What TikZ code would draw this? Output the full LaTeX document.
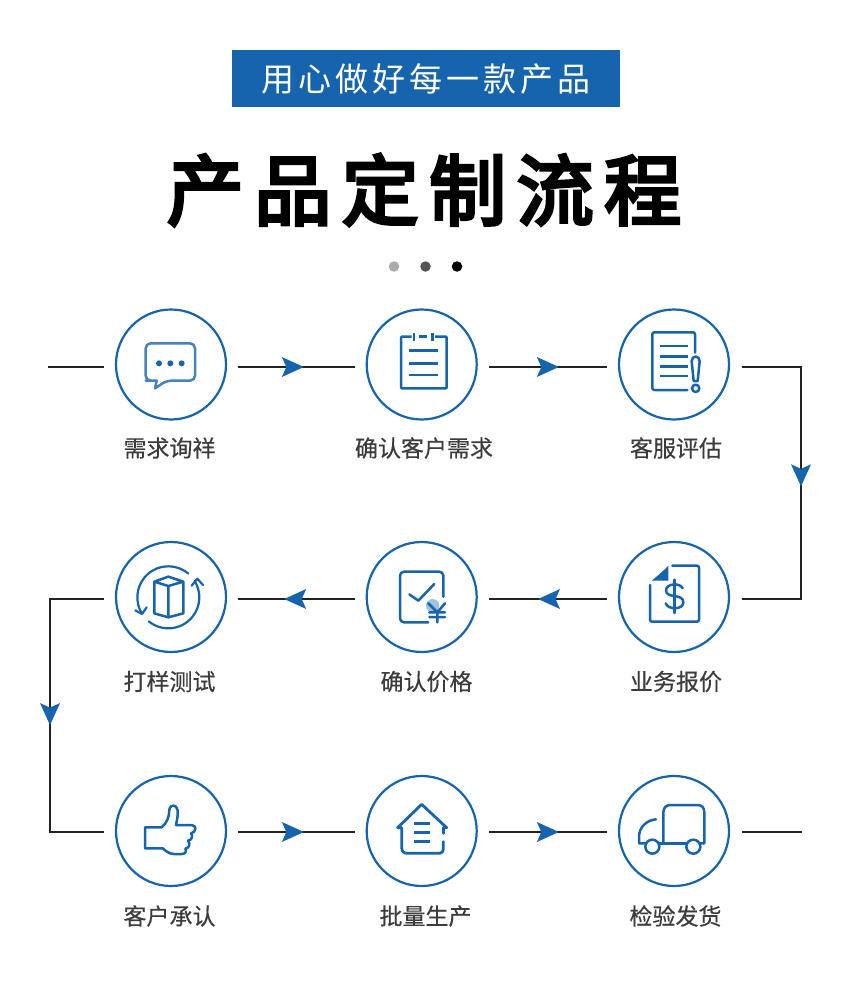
\documentclass[tikz,border=0pt]{standalone}
\usepackage{fontspec}
\setmainfont{Noto Sans CJK SC}
\definecolor{brand}{HTML}{1564AD}
\definecolor{labelgray}{HTML}{3C3C3C}
\definecolor{wire}{HTML}{222222}
\tikzset{
  x=1pt,y=-1pt,
  stepcircle/.style={circle,draw=brand,line width=2.2pt,minimum size=110pt,inner sep=0pt,outer sep=0pt,fill=white},
  steplabel/.style={text=labelgray,font=\fontsize{23}{23}\selectfont\addfontfeature{FakeBold=0.4},inner sep=0pt},
  flow/.style={draw=wire,line width=2.2pt,line join=miter},
  icon/.style={draw=brand,line width=2.5pt,line cap=round,line join=round},
  zoomed/.style={x=0.33333pt,y=-0.33333pt},
  head/.pic={\fill[brand] (11,0) -- (-11,-10) -- (-6.5,0) -- (-11,10) -- cycle;},
  dot/.style={circle,minimum size=10.5pt,inner sep=0pt,fill=#1},
}
\begin{document}
\begin{tikzpicture}
\useasboundingbox (0,0) rectangle (850,992);
\fill[white] (0,0) rectangle (850,992);
% header
\node[fill=brand,minimum width=388pt,minimum height=57pt,inner sep=0pt,text=white,font=\fontsize{33}{33}\selectfont\addfontfeature{LetterSpace=12}] (banner) at (426,78.5) {用心做好每一款产品};
\node[inner sep=0pt,text=black,font=\fontsize{77}{77}\selectfont\addfontfeature{LetterSpace=13.6,FakeBold=4.5}] (title) at (424,190) {产品定制流程};
\node[dot=black!33] (d1) at (394,266.5) {};
\node[dot=black!67] (d2) at (425.5,266.5) {};
\node[dot=black] (d3) at (457,266.5) {};
% steps
\node[stepcircle] (n1) at (171,364.5) {};
\node[stepcircle] (n2) at (421.7,364.5) {};
\node[stepcircle] (n3) at (674,364.5) {};
\node[stepcircle] (n4) at (674,597) {};
\node[stepcircle] (n5) at (421.7,597) {};
\node[stepcircle] (n6) at (171,597) {};
\node[stepcircle] (n7) at (171,831) {};
\node[stepcircle] (n8) at (421.7,831) {};
\node[stepcircle] (n9) at (674,831) {};
\node[steplabel] (l1) at (169.5,448) {需求询祥};
\node[steplabel] (l2) at (424,448) {确认客户需求};
\node[steplabel] (l3) at (676,448) {客服评估};
\node[steplabel] (l4) at (676,681.5) {业务报价};
\node[steplabel] (l5) at (426.5,681.5) {确认价格};
\node[steplabel] (l6) at (169.5,681.5) {打样测试};
\node[steplabel] (l7) at (169.5,916) {客户承认};
\node[steplabel] (l8) at (425.5,916) {批量生产};
\node[steplabel] (l9) at (675.5,916) {检验发货};
% connector ends and corners
\coordinate (s0) at (48,367);
\coordinate (e9) at (802,832);
\coordinate (cr1) at (801,367);
\coordinate (cr2) at (801,599);
\coordinate (cl1) at (50,599);
\coordinate (cl2) at (50,832);
% connectors
\draw[flow] (s0) -- ([xshift=-12.5pt,yshift=-2.5pt]n1.west);
\draw[flow] ([xshift=12pt,yshift=-2.5pt]n1.east) -- pic[pos=0.47]{head} ([xshift=-12pt,yshift=-2.5pt]n2.west);
\draw[flow] ([xshift=12pt,yshift=-2.5pt]n2.east) -- pic[pos=0.5]{head} ([xshift=-12pt,yshift=-2.5pt]n3.west);
\draw[flow] ([xshift=13pt,yshift=-2.5pt]n3.east) -- (cr1) -- pic[pos=0.467,sloped,allow upside down]{head} (cr2) -- ([xshift=13pt,yshift=-2pt]n4.east);
\draw[flow] ([xshift=-12pt,yshift=-2pt]n4.west) -- pic[pos=0.49,sloped,allow upside down]{head} ([xshift=12pt,yshift=-2pt]n5.east);
\draw[flow] ([xshift=-12pt,yshift=-2pt]n5.west) -- pic[pos=0.51,sloped,allow upside down]{head} ([xshift=12pt,yshift=-2pt]n6.east);
\draw[flow] ([xshift=-12.5pt,yshift=-2pt]n6.west) -- (cl1) -- pic[pos=0.494,sloped,allow upside down]{head} (cl2) -- ([xshift=-12.5pt,yshift=-1pt]n7.west);
\draw[flow] ([xshift=12pt,yshift=-1pt]n7.east) -- pic[pos=0.47]{head} ([xshift=-12pt,yshift=-1pt]n8.west);
\draw[flow] ([xshift=12pt,yshift=-1pt]n8.east) -- pic[pos=0.5]{head} ([xshift=-12pt,yshift=-1pt]n9.west);
\draw[flow] ([xshift=13pt,yshift=-1pt]n9.east) -- (e9);
% icon 1: speech bubble
\begin{scope}[shift={(100,300)},zoomed]
  \draw[icon,draw=brand!80] (170,242) [rounded corners=5pt] -- (152,242) -- (137,242) -- (137,130) -- (285,130) -- (285,242) -- (200,242) [sharp corners] -- (165,265) -- (170,242);
  \foreach \x in {177,211,245} \fill[brand] (\x,190) circle[radius=9];
\end{scope}
% icon 2: clipboard
\begin{scope}[shift={(100,300)},zoomed]
  \draw[icon,line cap=butt,line join=miter,rounded corners=1pt] (935,110) -- (903,110) -- (903,265) -- (1040,265) -- (1040,110) -- (1005,110);
  \draw[icon,line cap=butt] (957,110) -- (980,110);
  \draw[icon,line cap=butt] (942,100) -- (942,122) (997,100) -- (997,122);
  \foreach \y in {152,190,225} \draw[icon,line cap=butt] (928,\y) -- (1014,\y);
\end{scope}
% icon 3: report with exclamation mark
\begin{scope}[shift={(600,300)},zoomed]
  \draw[icon,rounded corners=2pt] (285,158) -- (285,97) -- (157,97) -- (157,270) -- (262,270);
  \foreach \y in {138,170,200,228} \draw[icon,line cap=butt] (180,\y) -- (265,\y);
  \draw[icon] (275,184) .. controls (275,165) and (299,165) .. (299,184) -- (293,243) -- (281,243) -- cycle;
  \draw[icon] (287,265) circle[radius=11];
\end{scope}
% icon 4: quote with dollar
\begin{scope}[shift={(600,535)},zoomed]
  \draw[icon,rounded corners=2pt] (217,92) -- (297,92) -- (297,260) -- (150,260) -- (150,150);
  \fill[brand] (205,92) -- (205,137) -- (155,137) .. controls (170,125) and (190,108) .. cycle;
  \draw[icon] (248,160) .. controls (240,142) and (198,145) .. (198,166) .. controls (198,192) and (250,174) .. (250,202) .. controls (250,224) and (205,226) .. (197,205);
  \draw[icon] (223,134) -- (223,234);
\end{scope}
% icon 5: price check
\begin{scope}[shift={(100,535)},zoomed]
  \fill[brand!40] (998,212) circle[radius=20];
  \draw[icon,rounded corners=4pt] (1030,185) -- (1030,110) -- (900,110) -- (900,262) -- (985,262);
  \draw[icon] (928,178) -- (955,197) -- (1003,147);
  \draw[icon] (985,205) -- (1012,232) -- (1035,205) (988,232) -- (1035,232) (988,246) -- (1035,246) (1012,232) -- (1012,262);
\end{scope}
% icon 6: rotating box
\begin{scope}[shift={(100,535)},zoomed]
  \draw[icon] (163,140) -- (205,125) -- (250,140) -- (205,153) -- cycle (163,140) -- (163,235) -- (205,247) -- (250,235) -- (250,140) (205,153) -- (205,247);
  \draw[icon,line width=2.2pt] ([shift={(-50:93)}]205,187) arc[start angle=-50,end angle=-211,radius=93];
  \draw[icon,line width=2.2pt] ([shift={(-231:93)}]205,187) arc[start angle=-231,end angle=-392,radius=93];
  \draw[icon,line width=2.2pt] (106,226) -- (126,237) -- (140,217);
  \draw[icon,line width=2.2pt] (275,152) -- (292,131) -- (309,150);
\end{scope}
% icon 7: thumbs up
\begin{scope}[shift={(100,770)},zoomed]
  \draw[icon] (135,172) -- (135,235) -- (188,235) .. controls (195,240) and (205,252) .. (222,252) -- (245,252) .. controls (258,252) and (260,243) .. (256,236) .. controls (268,234) and (272,222) .. (264,212) .. controls (276,210) and (280,198) .. (273,190) .. controls (288,188) and (292,166) .. (275,165) -- (228,165) .. controls (232,145) and (238,120) .. (228,110) .. controls (218,102) and (208,110) .. (208,120) .. controls (208,140) and (200,160) .. (185,172) -- cycle;
\end{scope}
% icon 8: house
\begin{scope}[shift={(100,770)},zoomed]
  \draw[icon,line width=2.8pt] (893,173) -- (965,103) -- (1040,173);
  \draw[icon,line width=2.8pt] (893,173) -- (905,173) -- (905,232) .. controls (905,245) and (912,250) .. (922,250) -- (1015,250) .. controls (1025,250) and (1030,245) .. (1030,235) -- (1030,215);
  \draw[icon,line width=2.8pt] (1040,173) -- (1030,173) -- (1030,190);
  \foreach \y in {160,188,215} \draw[icon,line width=2.8pt,line cap=butt] (943,\y) -- (990,\y);
\end{scope}
% icon 9: truck
\begin{scope}[shift={(600,770)},zoomed]
  \draw[icon] (190,220) -- (190,128) .. controls (190,113) and (198,105) .. (212,105) -- (292,105) .. controls (306,105) and (313,113) .. (313,128) -- (313,220) -- (300,220);
  \draw[icon] (178,220) -- (260,220);
  \draw[icon] (136,220) -- (117,220) -- (117,200) .. controls (117,172) and (140,150) .. (168,148);
  \draw[icon] (157,230) circle[radius=21];
  \draw[icon] (280,230) circle[radius=21];
\end{scope}
\end{tikzpicture}
\end{document}
